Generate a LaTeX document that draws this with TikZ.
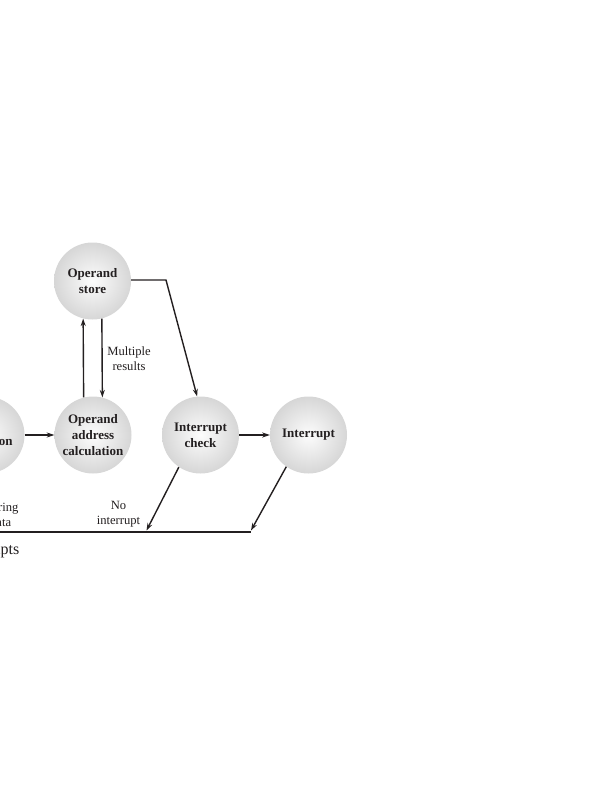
\documentclass[tikz,border=0pt]{standalone}
\usepackage{fontspec}
\setmainfont{Liberation Serif}
\usetikzlibrary{arrows.meta}
\definecolor{ink}{HTML}{231F20}
\tikzset{
  state/.style={circle, minimum size=77pt, inner sep=0pt, align=center,
    shading=radial, inner color=white!98!gray, outer color=gray!32,
    font=\fontsize{13}{15.8}\selectfont\bfseries, text=ink},
  lbl/.style={align=center, inner sep=0pt, font=\fontsize{12.6}{15}\selectfont, text=ink},
  conn/.style={draw=ink, line width=1.4pt},
  arr/.style={conn, -{Stealth[length=7.5pt,width=5pt]}}
}
\begin{document}
\begin{tikzpicture}[x=1pt,y=-1pt]
\useasboundingbox (0,0) rectangle (604,800);
\clip (0,0) rectangle (604,800);
\node[state] (dop) at (-14,435) {Data\\operation};
\node[state] (ostore) at (92.5,281) {Operand\\store};
\node[state] (oac) at (93,435) {Operand\\address\\calculation};
\node[state] (ic) at (200.5,435) {Interrupt\\check};
\node[state] (int) at (308.5,435) {Interrupt};
\coordinate (k1) at (166,280);
\coordinate (n1) at (146.5,530.5);
\coordinate (n2) at (251,530.5);
\coordinate (b0) at (-5,532);
\coordinate (b1) at (251,532);
\draw[arr] (dop.east) -- (oac.west);
\draw[arr] (oac.104) -- (ostore.256);
\draw[arr] (ostore.284) -- (oac.76);
\draw[arr] (ostore.east |- k1) -- (k1) -- (ic.95);
\draw[arr] (ic.east) -- (int.west);
\draw[arr] (ic.236) -- (n1);
\draw[arr] (int.235) -- (n2);
\draw[conn] (b0) -- (b1);
\node[lbl] (mres) at (129,358.5) {Multiple\\results};
\node[lbl] (noint) at (118.5,514.5) {No\\interrupt};
\node[lbl] (ret) at (-23.5,514.5) {Return for string\\or vector data};
\node[lbl, anchor=east, font=\fontsize{16}{18}\selectfont] (cap) at (19.5,551) {Interrupts};
\end{tikzpicture}
\end{document}
